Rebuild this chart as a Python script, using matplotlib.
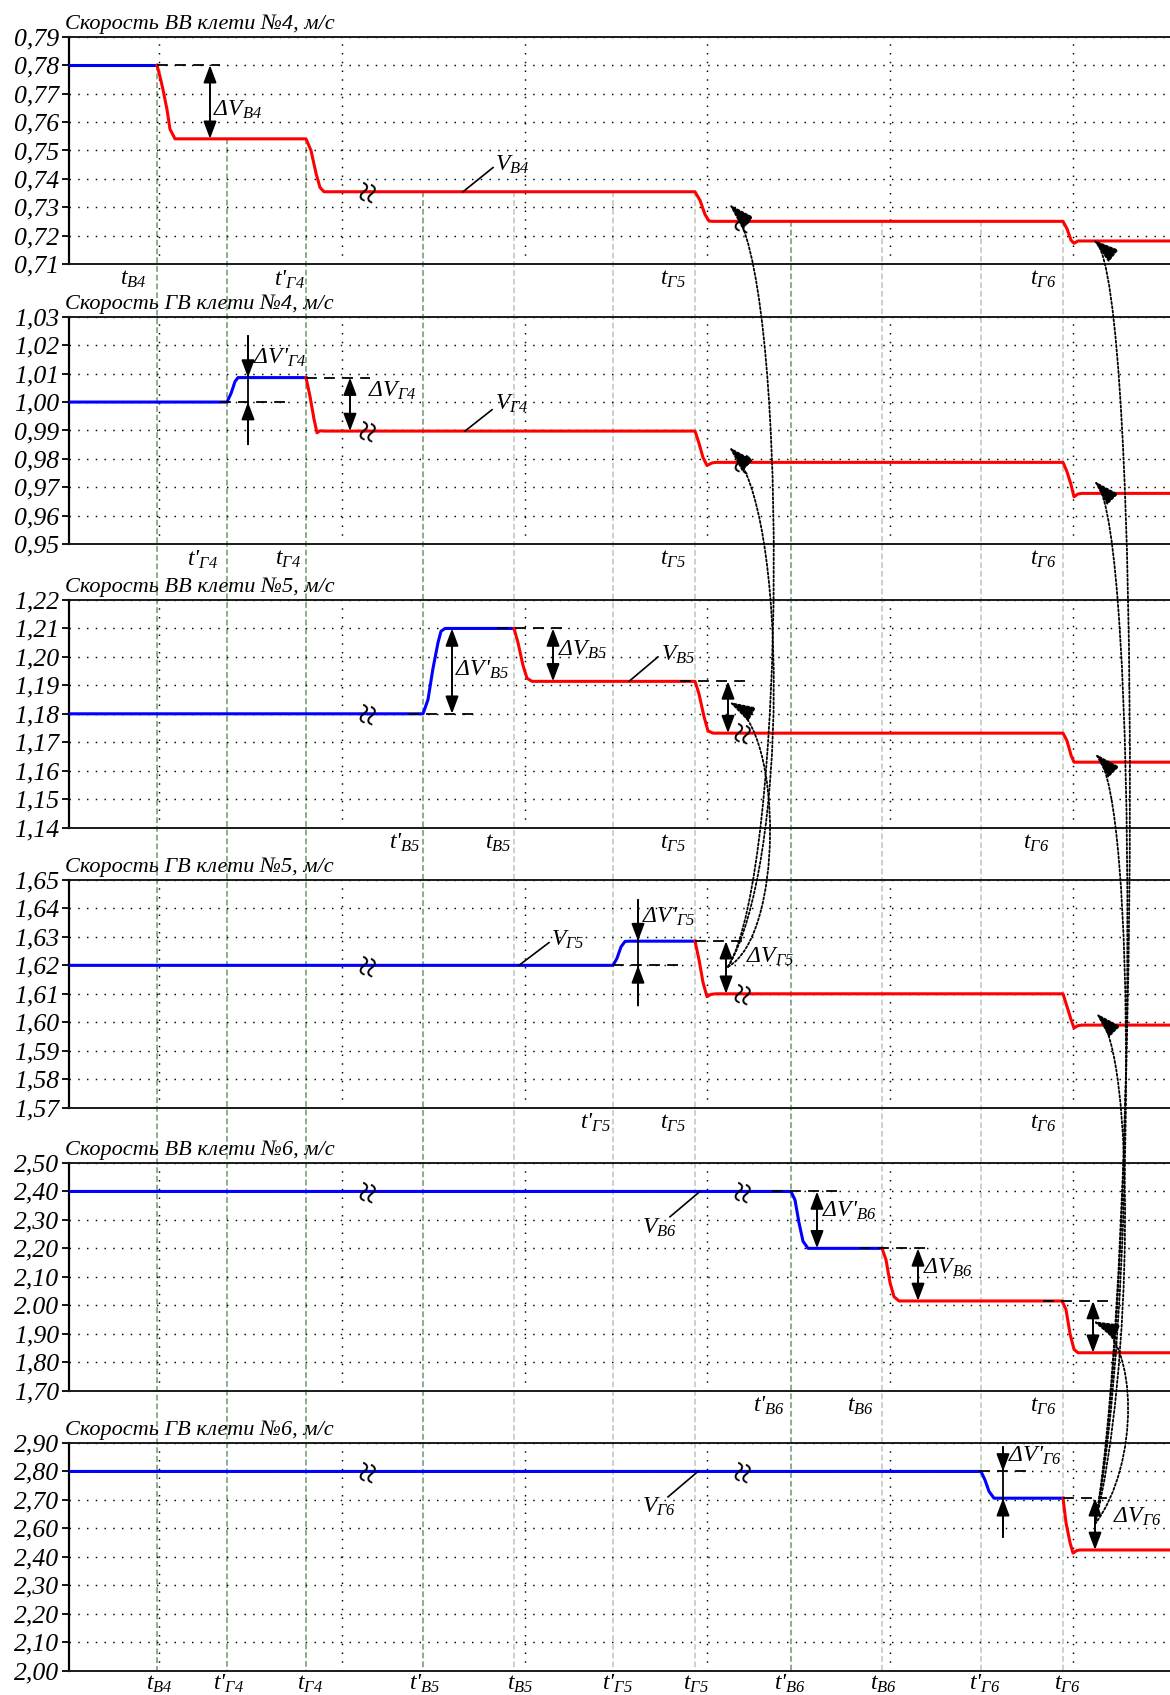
import numpy as np
import matplotlib.pyplot as plt
from matplotlib.patches import ConnectionPatch, FancyArrowPatch
from matplotlib.path import Path
from matplotlib.transforms import IdentityTransform

plt.rcParams['font.family'] = ['Liberation Serif', 'DejaVu Serif']
plt.rcParams['font.style'] = 'italic'
plt.rcParams['mathtext.fontset'] = 'custom'
plt.rcParams['mathtext.it'] = 'Liberation Serif:italic'
plt.rcParams['mathtext.rm'] = 'Liberation Serif'
plt.rcParams['mathtext.bf'] = 'Liberation Serif:bold'

# моменты времени (условные единицы по оси времени)
t_B4, t1_G4, t_G4 = 157, 227, 306
t1_B5, t_B5 = 423, 514
t1_G5, t_G5 = 613, 695
t1_B6, t_B6 = 791, 882
t1_G6, t_G6 = 981, 1063
t_events = [t_B4, t1_G4, t_G4, t1_B5, t_B5, t1_G5, t_G5, t1_B6, t_B6, t1_G6, t_G6]
t_dark = [True, True, True, True, False, False, False, True, False, False, False]
t_grid = [159, 342, 525, 707, 890, 1073]
t_min, t_max = 69, 1170

titles = ['Скорость ВВ клети №4, м/с', 'Скорость ГВ клети №4, м/с',
          'Скорость ВВ клети №5, м/с', 'Скорость ГВ клети №5, м/с',
          'Скорость ВВ клети №6, м/с', 'Скорость ГВ клети №6, м/с']

ticks1 = [0.71, 0.72, 0.73, 0.74, 0.75, 0.76, 0.77, 0.78, 0.79]
ticks2 = [0.95, 0.96, 0.97, 0.98, 0.99, 1.00, 1.01, 1.02, 1.03]
ticks3 = [1.14, 1.15, 1.16, 1.17, 1.18, 1.19, 1.20, 1.21, 1.22]
ticks4 = [1.57, 1.58, 1.59, 1.60, 1.61, 1.62, 1.63, 1.64, 1.65]
ticks5 = [1.70, 1.80, 1.90, 2.00, 2.10, 2.20, 2.30, 2.40, 2.50]
ticks6 = [2.00, 2.10, 2.20, 2.30, 2.40, 2.60, 2.70, 2.80, 2.90]
labels5 = ['1,70', '1,80', '1,90', '2.00', '2,10', '2,20', '2,30', '2,40', '2,50']

# скорость ВВ клети №4
x1 = [69, 157, 160, 163, 167, 170, 175, 306, 311, 316, 320, 324, 695, 700, 705, 709, 713,
      1063, 1067, 1071, 1074, 1078, 1170]
v1 = [0.78, 0.78, 0.776, 0.7714, 0.7644, 0.7575, 0.7541, 0.7541, 0.750, 0.742, 0.737, 0.7355,
      0.7355, 0.7325, 0.7275, 0.7252, 0.7251, 0.7251, 0.7225, 0.7185, 0.7174, 0.7182, 0.7182]
# скорость ГВ клети №4
x2 = [69, 227, 231, 235, 238, 306, 310, 314, 317, 320, 324, 695, 699, 703, 707, 712, 716,
      1063, 1067, 1071, 1074, 1078, 1082, 1170]
v2 = [1.0, 1.0, 1.003, 1.0072, 1.0086, 1.0086, 1.002, 0.994, 0.9892, 0.9899, 0.9898, 0.9898,
      0.9855, 0.9805, 0.9777, 0.9786, 0.9788, 0.9788, 0.9755, 0.971, 0.9667, 0.9677, 0.9679, 0.9679]
# скорость ВВ клети №5
x3 = [69, 423, 428, 433, 438, 441, 445, 514, 518, 523, 527, 532, 695, 699, 704, 708, 713,
      1063, 1067, 1071, 1074, 1078, 1170]
v3 = [1.18, 1.18, 1.185, 1.196, 1.205, 1.209, 1.21, 1.21, 1.205, 1.197, 1.1925, 1.1914, 1.1914,
      1.187, 1.179, 1.174, 1.1732, 1.1732, 1.1705, 1.1655, 1.163, 1.163, 1.163]
# скорость ГВ клети №5
x4 = [69, 613, 617, 621, 625, 629, 695, 699, 703, 707, 711, 716, 1063, 1067, 1071, 1074, 1078,
      1082, 1170]
v4 = [1.62, 1.62, 1.6225, 1.6265, 1.6284, 1.6285, 1.6285, 1.622, 1.614, 1.609, 1.6098, 1.61,
      1.61, 1.6055, 1.601, 1.598, 1.5988, 1.599, 1.599]
# скорость ВВ клети №6
x5 = [69, 791, 795, 799, 803, 808, 882, 886, 890, 894, 899, 1062, 1066, 1070, 1074, 1078, 1170]
v5 = [2.40, 2.40, 2.37, 2.29, 2.225, 2.20, 2.20, 2.16, 2.08, 2.03, 2.015, 2.015, 1.985, 1.90,
      1.845, 1.833, 1.833]
# скорость ГВ клети №6
x6 = [69, 981, 985, 989, 994, 1063, 1066, 1070, 1073, 1077, 1080, 1170]
v6 = [2.80, 2.80, 2.77, 2.73, 2.706, 2.706, 2.62, 2.50, 2.426, 2.445, 2.448, 2.448]

ticks_all = [ticks1, ticks2, ticks3, ticks4, ticks5, ticks6]
xs = [x1, x2, x3, x4, x5, x6]
vs = [v1, v2, v3, v4, v5, v6]
blue_end = [t_B4, t_G4, t_B5, t_G5, t_B6, t_G6]

fig = plt.figure(figsize=(11.7, 16.95), dpi=100)
W, H = 1170, 1695
tops = [36.7, 316.7, 600, 880, 1163, 1443]
ph = 227.6
FS = 17


def pos(v, k):
    return np.interp(v, ticks_all[k], np.arange(len(ticks_all[k])))


axes = []
for k in range(6):
    ax = fig.add_axes([t_min / W, 1 - (tops[k] + ph) / H, 1 - t_min / W, ph / H])
    ax.patch.set_visible(False)
    ax.set_xlim(t_min, t_max)
    ax.set_ylim(0, 8)
    ax.set_yticks(range(9))
    if k == 4:
        ax.set_yticklabels(labels5)
    else:
        ax.set_yticklabels([('%.2f' % v).replace('.', ',') for v in ticks_all[k]])
    ax.set_xticks(t_grid)
    ax.tick_params(axis='x', length=0, labelbottom=False)
    ax.tick_params(axis='y', direction='out', length=5, width=1.3, pad=2, labelsize=18.5)
    ax.grid(True, color='k', linestyle=(0, (1, 5)), lw=1.05)
    ax.spines['right'].set_visible(False)
    ax.spines['left'].set_linewidth(1.6)
    for s in ['top', 'bottom']:
        ax.spines[s].set_linewidth(1.4)
        ax.spines[s].set_color('#1a1a1a')
    ax.text(-0.004, 1.012, titles[k], transform=ax.transAxes, fontsize=16,
            ha='left', va='bottom')

    x = np.array(xs[k], dtype=float)
    y = pos(vs[k], k)
    b = x <= blue_end[k]
    r = x >= blue_end[k]
    ax.plot(x[b], y[b], color='#0000ff', lw=2.2, solid_joinstyle='round', zorder=3)
    ax.plot(x[r], y[r], color='#ff0000', lw=2.2, solid_joinstyle='round', zorder=3)
    for xb in (371, 746):
        ax.text(xb, np.interp(xb, x, y), '≈', rotation=75, fontsize=28,
                fontstyle='normal', ha='center', va='center', zorder=4)
    axes.append(ax)

# события под осями
bottom_labels = [
    [('t$_{B4}$', 133), ("t'$_{Г4}$", 290), ('t$_{Г5}$', 673), ('t$_{Г6}$', 1043)],
    [("t'$_{Г4}$", 203), ('t$_{Г4}$', 288), ('t$_{Г5}$', 673), ('t$_{Г6}$', 1043)],
    [("t'$_{B5}$", 405), ('t$_{B5}$', 498), ('t$_{Г5}$', 673), ('t$_{Г6}$', 1036)],
    [("t'$_{Г5}$", 595), ('t$_{Г5}$', 673), ('t$_{Г6}$', 1043)],
    [("t'$_{B6}$", 769), ('t$_{B6}$', 861), ('t$_{Г6}$', 1043)],
    [('t$_{B4}$', 159), ("t'$_{Г4}$", 229), ('t$_{Г4}$', 310), ("t'$_{B5}$", 425),
     ('t$_{B5}$', 520), ("t'$_{Г5}$", 617), ('t$_{Г5}$', 696), ("t'$_{B6}$", 790),
     ('t$_{B6}$', 884), ("t'$_{Г6}$", 985), ('t$_{Г6}$', 1067)],
]
for k, labs in enumerate(bottom_labels):
    yl = -0.06 if k == 5 else -0.068
    for s, xl in labs:
        axes[k].text(xl, yl, s, transform=axes[k].get_xaxis_transform(),
                     fontsize=FS, ha='center', va='center')

# вертикальные линии событий через все графики
for te, dark in zip(t_events, t_dark):
    y_start = np.interp(te, x1, pos(v1, 0))
    con = ConnectionPatch(xyA=(te, y_start), coordsA=axes[0].transData,
                          xyB=(te, 0), coordsB=axes[5].transData,
                          color='#4d7d4d' if dark else '#a9bba9', lw=0.9,
                          linestyle=(0, (4, 3)), zorder=-1)
    fig.add_artist(con)

DASH = dict(color='k', lw=1.3, dashes=(6, 4), zorder=4)
DA = dict(arrowstyle='<|-|>,head_length=0.75,head_width=0.28', color='k', lw=1.4,
          shrinkA=0, shrinkB=0, mutation_scale=14)
SA = dict(arrowstyle='-|>,head_length=0.75,head_width=0.28', color='k', lw=1.4,
          shrinkA=0, shrinkB=0, mutation_scale=14)


def dashed(k, xa, xb, v):
    axes[k].plot([xa, xb], [pos(v, k)] * 2, **DASH)


def darrow(k, x, va, vb, label=None, lx=None, lv=None):
    ax = axes[k]
    ax.annotate('', xy=(x, pos(va, k)), xytext=(x, pos(vb, k)), arrowprops=DA, zorder=5)
    if label:
        ax.text(lx, pos(lv, k), label, fontsize=FS, ha='left', va='center', zorder=5)


def inward(k, x, vhi, vlo, vtop, vbot, label, lx, lv):
    ax = axes[k]
    ax.plot([x, x], [pos(vtop, k), pos(vbot, k)], color='k', lw=1.3, zorder=5)
    ax.annotate('', xy=(x, pos(vhi, k)), xytext=(x, pos(vtop, k)), arrowprops=SA, zorder=5)
    ax.annotate('', xy=(x, pos(vlo, k)), xytext=(x, pos(vbot, k)), arrowprops=SA, zorder=5)
    ax.text(lx, pos(lv, k), label, fontsize=FS, ha='left', va='center', zorder=5)


def callout(k, xa, va, xb, vb, label, lx, lv, ha='left'):
    ax = axes[k]
    ax.plot([xa, xb], [pos(va, k), pos(vb, k)], color='k', lw=1.2, zorder=5)
    ax.text(lx, pos(lv, k), label, fontsize=FS, ha=ha, va='center', zorder=5)


# панель 1
dashed(0, 157, 220, 0.78)
darrow(0, 210, 0.78, 0.7541, r'$\Delta V_{B4}$', 213, 0.7644)
callout(0, 463, 0.7355, 493, 0.744, r'$V_{B4}$', 495, 0.7448)
# панель 2
dashed(1, 220, 290, 1.00)
inward(1, 248, 1.0086, 1.00, 1.0232, 0.9852, r"$\Delta V$'$_{Г4}$", 253, 1.0157)
dashed(1, 306, 370, 1.0086)
darrow(1, 350, 1.0086, 0.9898, r'$\Delta V_{Г4}$', 368, 1.0039)
callout(1, 465, 0.9898, 492, 0.9973, r'$V_{Г4}$', 495, 0.9995)
# панель 3
dashed(2, 408, 475, 1.18)
darrow(2, 452, 1.18, 1.21, r"$\Delta V$'$_{B5}$", 455, 1.1955)
dashed(2, 497, 563, 1.21)
darrow(2, 553, 1.21, 1.1914, r'$\Delta V_{B5}$', 558, 1.2026)
dashed(2, 680, 748, 1.1914)
darrow(2, 728, 1.1914, 1.1732)
callout(2, 629, 1.1914, 658, 1.200, r'$V_{B5}$', 661, 1.2008)
# панель 4
dashed(3, 613, 678, 1.62)
inward(3, 638, 1.6285, 1.62, 1.6429, 1.6059, r"$\Delta V$'$_{Г5}$", 642, 1.6372)
dashed(3, 695, 744, 1.6285)
darrow(3, 726, 1.6285, 1.61, r'$\Delta V_{Г5}$', 746, 1.6231)
callout(3, 519, 1.62, 549, 1.628, r'$V_{Г5}$', 551, 1.6288)
# панель 5
dashed(4, 772, 840, 2.40)
darrow(4, 817, 2.40, 2.20, r"$\Delta V$'$_{B6}$", 822, 2.332)
dashed(4, 860, 930, 2.20)
darrow(4, 918, 2.20, 2.015, r'$\Delta V_{B6}$', 923, 2.133)
dashed(4, 1043, 1113, 2.015)
darrow(4, 1093, 2.015, 1.833)
callout(4, 700, 2.40, 670, 2.311, r'$V_{B6}$', 659, 2.272, ha='center')
# панель 6
dashed(5, 979, 1026, 2.80)
inward(5, 1003, 2.80, 2.706, 2.885, 2.542, r"$\Delta V$'$_{Г6}$", 1008, 2.856)
dashed(5, 1063, 1107, 2.706)
darrow(5, 1095, 2.706, 2.448, r'$\Delta V_{Г6}$', 1113, 2.639)
callout(5, 698, 2.80, 668, 2.7105, r'$V_{Г6}$', 659, 2.677, ha='center')


# изогнутые пунктирные стрелки между графиками
def curved(kA, ptA, kB, ptB, c1, c2):
    pA = axes[kA].transData.transform((ptA[0], pos(ptA[1], kA)))
    pB = axes[kB].transData.transform((ptB[0], pos(ptB[1], kB)))
    q1 = pA + np.array([c1[0], -c1[1]])
    q2 = pB + np.array([c2[0], -c2[1]])
    path = Path([pA, q1, q2, pB], [Path.MOVETO, Path.CURVE4, Path.CURVE4, Path.CURVE4])
    arr = FancyArrowPatch(path=path, arrowstyle='-|>,head_length=1.15,head_width=0.35',
                          mutation_scale=14, color='k', lw=1.3, linestyle=(0, (1.2, 1.2)),
                          transform=IdentityTransform(), zorder=6)
    fig.add_artist(arr)


o4 = (728, 1.6195)
curved(3, o4, 0, (729, 0.7312), (60, -100), (60, 60))
curved(3, o4, 1, (729, 0.9842), (60, -100), (60, 60))
curved(3, o4, 2, (729, 1.1842), (55, -30), (55, 30))
o6 = (1095, 2.615)
curved(5, o6, 0, (1093, 0.7187), (45, -250), (50, 40))
curved(5, o6, 1, (1094, 0.9723), (42, -220), (45, 45))
curved(5, o6, 2, (1095, 1.166), (40, -200), (42, 42))
curved(5, o6, 3, (1096, 1.6032), (38, -150), (40, 40))
curved(5, o6, 4, (1093, 1.944), (45, -60), (45, 20))

fig.savefig('out.png', dpi=100)
